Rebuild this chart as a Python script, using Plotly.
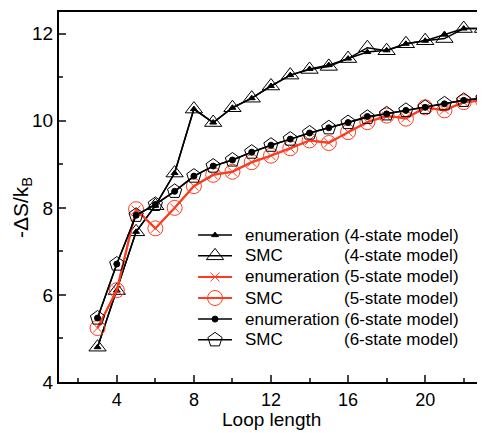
import plotly.graph_objects as go

loop_len = list(range(3, 24))

enum4 = [4.80, 6.10, 7.45, 8.05, 8.80, 10.27, 9.96, 10.30, 10.52, 10.80, 11.05, 11.19, 11.28, 11.43, 11.58, 11.62, 11.77, 11.84, 11.98, 12.12, 12.12]
smc4 = [4.80, 6.10, 7.45, 8.05, 8.80, 10.27, 9.96, 10.30, 10.52, 10.80, 11.05, 11.18, 11.25, 11.43, 11.68, 11.61, 11.77, 11.84, 11.89, 12.12, 12.12]
enum5 = [5.24, 6.11, 7.95, 7.53, 8.00, 8.50, 8.76, 8.83, 9.05, 9.20, 9.37, 9.55, 9.50, 9.74, 9.97, 10.10, 10.07, 10.30, 10.25, 10.43, 10.47]
smc5 = [5.24, 6.11, 7.97, 7.53, 8.00, 8.50, 8.76, 8.83, 9.05, 9.20, 9.37, 9.55, 9.49, 9.74, 9.97, 10.12, 10.05, 10.31, 10.24, 10.43, 10.47]
enum6 = [5.47, 6.71, 7.83, 8.08, 8.38, 8.73, 8.96, 9.10, 9.28, 9.44, 9.58, 9.72, 9.84, 9.96, 10.10, 10.16, 10.24, 10.31, 10.39, 10.47, 10.52]
smc6 = [5.47, 6.71, 7.83, 8.08, 8.38, 8.73, 8.96, 9.10, 9.28, 9.44, 9.58, 9.72, 9.84, 9.96, 10.08, 10.16, 10.24, 10.31, 10.39, 10.47, 10.52]

x_ticks = [4, 8, 12, 16, 20]
y_ticks = [4, 6, 8, 10, 12]

methods = ["enumeration", "SMC", "enumeration", "SMC", "enumeration", "SMC"]
models = ["(4-state model)", "(4-state model)", "(5-state model)",
          "(5-state model)", "(6-state model)", "(6-state model)"]

RED = "#ff3b1f"
series = [enum4, smc4, enum5, smc5, enum6, smc6]
styles = [
    ("black", "triangle-up", 6, 1.5),
    ("black", "triangle-up-open", 15, 1.5),
    (RED, "x-thin-open", 9, 2),
    (RED, "circle-open", 15, 2),
    ("black", "circle", 6, 1.5),
    ("black", "pentagon-open", 15, 1.5),
]

fig = go.Figure()
for ys, meth, mod, (col, sym, sz, lw) in zip(series, methods, models, styles):
    fig.add_trace(go.Scatter(
        x=loop_len, y=ys, name=f"{meth} {mod}", mode="lines+markers",
        line=dict(color=col, width=lw), showlegend=False,
        marker=dict(symbol=sym, size=sz, color=col, line=dict(color=col, width=1)),
    ))

# hand-built legend (on a hidden 0..1 overlay axis)
row_y = [0.397, 0.341, 0.284, 0.227, 0.170, 0.114]
lx0, lx1, lxm, tx, tx2 = 0.328, 0.408, 0.368, 0.434, 0.667
for i, (meth, mod, (col, sym, sz, lw)) in enumerate(zip(methods, models, styles)):
    ry = row_y[i]
    fig.add_trace(go.Scatter(x=[lx0, lx1], y=[ry, ry], mode="lines", xaxis="x2", yaxis="y2",
                             line=dict(color=col, width=lw), showlegend=False, hoverinfo="skip"))
    fig.add_trace(go.Scatter(x=[lxm], y=[ry], mode="markers", xaxis="x2", yaxis="y2",
                             marker=dict(symbol=sym, size=sz, color=col, line=dict(color=col, width=1)),
                             showlegend=False, hoverinfo="skip"))
    if meth == "SMC":
        fig.add_annotation(text=meth, xref="paper", yref="paper", x=tx, y=ry, xanchor="left",
                           yanchor="middle", showarrow=False, font=dict(size=17))
        fig.add_annotation(text=mod, xref="paper", yref="paper", x=tx2, y=ry, xanchor="left",
                           yanchor="middle", showarrow=False, font=dict(size=17))
    else:
        fig.add_annotation(text=f"{meth} {mod}", xref="paper", yref="paper", x=tx, y=ry,
                           xanchor="left", yanchor="middle", showarrow=False, font=dict(size=17))

fig.update_layout(
    width=477, height=425,
    margin=dict(l=51, r=2, t=4, b=51),
    paper_bgcolor="white", plot_bgcolor="white",
    font=dict(family="Liberation Sans, Arial", color="black"),
    showlegend=False,
    xaxis=dict(range=[1, 23], tickvals=x_ticks, ticks="inside", ticklen=7,
               tickwidth=1.5, showline=True, linecolor="black", linewidth=2, mirror=True,
               showgrid=False, zeroline=False, tickfont=dict(size=18), automargin=False,
               minor=dict(tickvals=[2, 6, 10, 14, 18, 22], ticks="inside", ticklen=4, tickwidth=1.5)),
    yaxis=dict(range=[4, 12.5], tickvals=y_ticks, ticks="inside", ticklen=7,
               tickwidth=1.5, showline=True, linecolor="black", linewidth=2,
               showgrid=False, zeroline=False, tickfont=dict(size=19), automargin=False,
               minor=dict(tickvals=[5, 7, 9, 11], ticks="inside", ticklen=4, tickwidth=1.5)),
    xaxis2=dict(overlaying="x", range=[0, 1], visible=False, fixedrange=True),
    yaxis2=dict(overlaying="y", range=[0, 1], visible=False, fixedrange=True),
)
fig.add_annotation(text="Loop length", xref="paper", yref="paper", x=0.5, y=0,
                   xanchor="center", yanchor="top", yshift=-26, showarrow=False,
                   font=dict(size=19), borderpad=0)
fig.add_annotation(text="-ΔS/k<sub>B</sub>", xref="paper", yref="paper", x=0, y=0.47,
                   xanchor="center", yanchor="middle", xshift=-37, showarrow=False,
                   textangle=-90, font=dict(size=21))
fig.add_shape(type="line", xref="paper", yref="paper", x0=1, x1=1, y0=0, y1=1,
              line=dict(color="#999999", width=1))
fig.write_html("out.html")
